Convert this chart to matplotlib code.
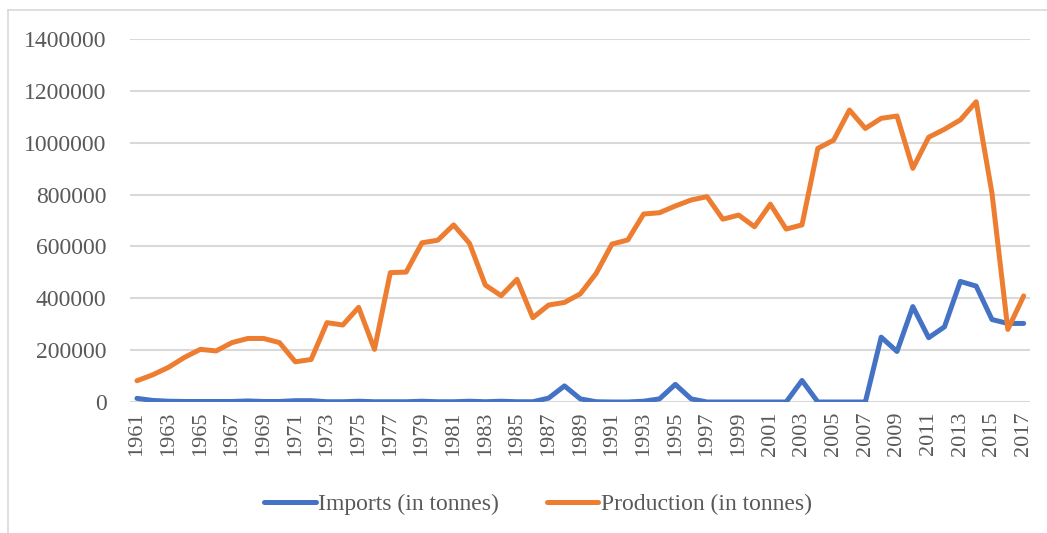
import matplotlib
matplotlib.use("Agg")
import matplotlib.pyplot as plt
from matplotlib.lines import Line2D

plt.rcParams['font.family'] = ['Liberation Serif', 'DejaVu Serif']

years = list(range(1961, 2018))

imports = [14000, 6000, 3000, 2000, 2000, 2000, 2000, 4000, 2000, 2000,
           5000, 5000, 1000, 1000, 3000, 1000, 1000, 1000, 3000, 1000,
           1000, 3000, 1000, 3000, 1000, 1000, 15000, 62000, 12000, 1000,
           0, 0, 3000, 12000, 68000, 12000, 0, 0, 0, 0,
           0, 0, 83000, 0, 0, 0, 0, 250000, 195000, 368000,
           248000, 290000, 465000, 447000, 318000, 303000, 303000]

production = [82000, 105000, 134000, 172000, 203000, 197000, 229000, 245000, 245000, 229000,
              155000, 164000, 306000, 297000, 365000, 203000, 499000, 501000, 614000, 624000,
              683000, 612000, 451000, 410000, 473000, 325000, 374000, 384000, 417000, 496000,
              609000, 625000, 725000, 730000, 756000, 779000, 792000, 705000, 721000, 676000,
              763000, 667000, 683000, 978000, 1010000, 1126000, 1055000, 1094000, 1103000, 901000,
              1021000, 1052000, 1088000, 1158000, 805000, 280000, 409000]

xtick_years = years[::2]
yticks = [0, 200000, 400000, 600000, 800000, 1000000, 1200000, 1400000]

blue = '#4472C4'
orange = '#ED7D31'
grid_col = '#D9D9D9'
text_col = '#595959'

fig = plt.figure(figsize=(10.47, 5.33), dpi=100)
ax = fig.add_axes([130 / 1047, 1 - 402 / 533, 900 / 1047, 363 / 533])

ax.plot(years, imports, color=blue, linewidth=3.6, solid_capstyle='round',
        solid_joinstyle='round', label='Imports (in tonnes)', zorder=3)
ax.plot(years, production, color=orange, linewidth=3.6, solid_capstyle='round',
        solid_joinstyle='round', label='Production (in tonnes)', zorder=3)

ax.set_xlim(1960.56, 2017.4)
ax.set_ylim(0, 1400000)
ax.set_yticks(yticks)
ax.set_yticklabels([str(v) for v in yticks])
ax.set_xticks(xtick_years)
ax.set_xticklabels([str(y) for y in xtick_years], rotation=90)
ax.grid(axis='y', color=grid_col, linewidth=1.5, zorder=0)
for s in ax.spines.values():
    s.set_visible(False)
ax.tick_params(axis='both', length=0, colors=text_col)
ax.tick_params(axis='y', labelsize=17, pad=17)
ax.tick_params(axis='x', labelsize=16, pad=7)

# outer chart border (left and top)
fig.add_artist(Line2D([8 / 1047, 8 / 1047], [0, 1 - 10 / 533], color=grid_col, linewidth=1.2))
fig.add_artist(Line2D([8 / 1047, 1], [1 - 10 / 533, 1 - 10 / 533], color=grid_col, linewidth=1.2))

fig.legend(loc='center', bbox_to_anchor=(538 / 1047, 1 - 504 / 533), ncol=2,
           frameon=False, fontsize=17, handlelength=2.2, handletextpad=0.12,
           columnspacing=2.0, labelcolor=text_col)

fig.savefig('out.png', dpi=100)
